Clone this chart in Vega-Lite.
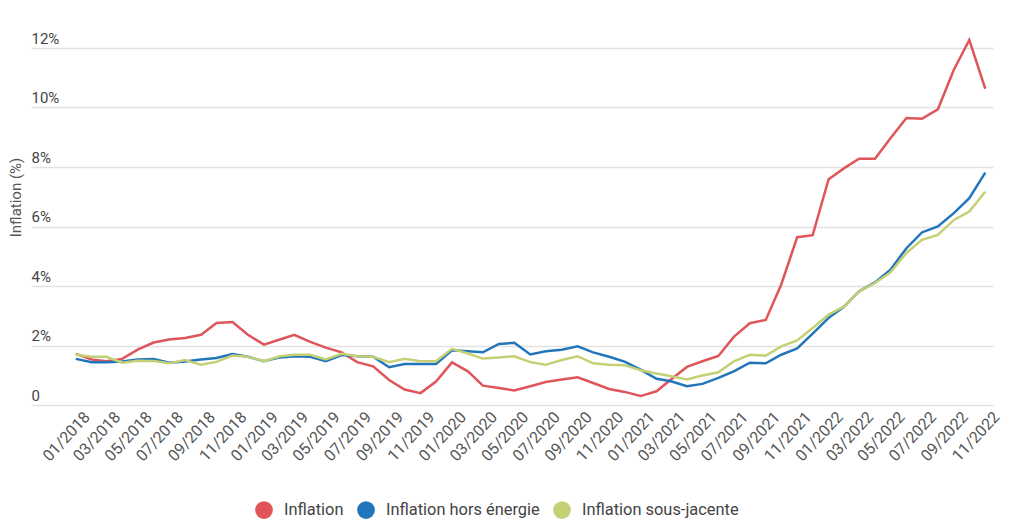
{
  "$schema": "https://vega.github.io/schema/vega-lite/v6.json",
  "width": 962,
  "height": 357,
  "autosize": {"type": "none"},
  "padding": {"left": 31, "top": 48, "right": 31, "bottom": 124},
  "background": "white",
  "config": {"view": {"stroke": null}, "font": "Roboto"},
  "data": {"values": [
    {"mois": "2018-01-01", "Inflation": 1.72, "Inflation hors énergie": 1.55, "Inflation sous-jacente": 1.69},
    {"mois": "2018-02-01", "Inflation": 1.53, "Inflation hors énergie": 1.44, "Inflation sous-jacente": 1.62},
    {"mois": "2018-03-01", "Inflation": 1.47, "Inflation hors énergie": 1.44, "Inflation sous-jacente": 1.62},
    {"mois": "2018-04-01", "Inflation": 1.55, "Inflation hors énergie": 1.46, "Inflation sous-jacente": 1.42},
    {"mois": "2018-05-01", "Inflation": 1.86, "Inflation hors énergie": 1.53, "Inflation sous-jacente": 1.49},
    {"mois": "2018-06-01", "Inflation": 2.10, "Inflation hors énergie": 1.55, "Inflation sous-jacente": 1.48},
    {"mois": "2018-07-01", "Inflation": 2.20, "Inflation hors énergie": 1.42, "Inflation sous-jacente": 1.40},
    {"mois": "2018-08-01", "Inflation": 2.25, "Inflation hors énergie": 1.46, "Inflation sous-jacente": 1.51},
    {"mois": "2018-09-01", "Inflation": 2.36, "Inflation hors énergie": 1.53, "Inflation sous-jacente": 1.35},
    {"mois": "2018-10-01", "Inflation": 2.76, "Inflation hors énergie": 1.58, "Inflation sous-jacente": 1.45},
    {"mois": "2018-11-01", "Inflation": 2.79, "Inflation hors énergie": 1.71, "Inflation sous-jacente": 1.66},
    {"mois": "2018-12-01", "Inflation": 2.36, "Inflation hors énergie": 1.62, "Inflation sous-jacente": 1.62},
    {"mois": "2019-01-01", "Inflation": 2.03, "Inflation hors énergie": 1.47, "Inflation sous-jacente": 1.47},
    {"mois": "2019-02-01", "Inflation": 2.20, "Inflation hors énergie": 1.60, "Inflation sous-jacente": 1.64},
    {"mois": "2019-03-01", "Inflation": 2.36, "Inflation hors énergie": 1.64, "Inflation sous-jacente": 1.69},
    {"mois": "2019-04-01", "Inflation": 2.12, "Inflation hors énergie": 1.62, "Inflation sous-jacente": 1.69},
    {"mois": "2019-05-01", "Inflation": 1.93, "Inflation hors énergie": 1.47, "Inflation sous-jacente": 1.53},
    {"mois": "2019-06-01", "Inflation": 1.77, "Inflation hors énergie": 1.68, "Inflation sous-jacente": 1.72},
    {"mois": "2019-07-01", "Inflation": 1.44, "Inflation hors énergie": 1.64, "Inflation sous-jacente": 1.64},
    {"mois": "2019-08-01", "Inflation": 1.30, "Inflation hors énergie": 1.62, "Inflation sous-jacente": 1.62},
    {"mois": "2019-09-01", "Inflation": 0.84, "Inflation hors énergie": 1.27, "Inflation sous-jacente": 1.44},
    {"mois": "2019-10-01", "Inflation": 0.52, "Inflation hors énergie": 1.38, "Inflation sous-jacente": 1.55},
    {"mois": "2019-11-01", "Inflation": 0.40, "Inflation hors énergie": 1.38, "Inflation sous-jacente": 1.47},
    {"mois": "2019-12-01", "Inflation": 0.79, "Inflation hors énergie": 1.38, "Inflation sous-jacente": 1.47},
    {"mois": "2020-01-01", "Inflation": 1.43, "Inflation hors énergie": 1.84, "Inflation sous-jacente": 1.89},
    {"mois": "2020-02-01", "Inflation": 1.13, "Inflation hors énergie": 1.81, "Inflation sous-jacente": 1.73},
    {"mois": "2020-03-01", "Inflation": 0.65, "Inflation hors énergie": 1.77, "Inflation sous-jacente": 1.56},
    {"mois": "2020-04-01", "Inflation": 0.57, "Inflation hors énergie": 2.05, "Inflation sous-jacente": 1.60},
    {"mois": "2020-05-01", "Inflation": 0.49, "Inflation hors énergie": 2.09, "Inflation sous-jacente": 1.64},
    {"mois": "2020-06-01", "Inflation": 0.63, "Inflation hors énergie": 1.70, "Inflation sous-jacente": 1.44},
    {"mois": "2020-07-01", "Inflation": 0.77, "Inflation hors énergie": 1.81, "Inflation sous-jacente": 1.35},
    {"mois": "2020-08-01", "Inflation": 0.86, "Inflation hors énergie": 1.86, "Inflation sous-jacente": 1.51},
    {"mois": "2020-09-01", "Inflation": 0.93, "Inflation hors énergie": 1.97, "Inflation sous-jacente": 1.64},
    {"mois": "2020-10-01", "Inflation": 0.74, "Inflation hors énergie": 1.77, "Inflation sous-jacente": 1.40},
    {"mois": "2020-11-01", "Inflation": 0.54, "Inflation hors énergie": 1.62, "Inflation sous-jacente": 1.35},
    {"mois": "2020-12-01", "Inflation": 0.44, "Inflation hors énergie": 1.46, "Inflation sous-jacente": 1.34},
    {"mois": "2021-01-01", "Inflation": 0.30, "Inflation hors énergie": 1.19, "Inflation sous-jacente": 1.17},
    {"mois": "2021-02-01", "Inflation": 0.46, "Inflation hors énergie": 0.88, "Inflation sous-jacente": 1.06},
    {"mois": "2021-03-01", "Inflation": 0.86, "Inflation hors énergie": 0.80, "Inflation sous-jacente": 0.97},
    {"mois": "2021-04-01", "Inflation": 1.28, "Inflation hors énergie": 0.63, "Inflation sous-jacente": 0.86},
    {"mois": "2021-05-01", "Inflation": 1.47, "Inflation hors énergie": 0.71, "Inflation sous-jacente": 0.99},
    {"mois": "2021-06-01", "Inflation": 1.65, "Inflation hors énergie": 0.91, "Inflation sous-jacente": 1.10},
    {"mois": "2021-07-01", "Inflation": 2.29, "Inflation hors énergie": 1.13, "Inflation sous-jacente": 1.47},
    {"mois": "2021-08-01", "Inflation": 2.75, "Inflation hors énergie": 1.42, "Inflation sous-jacente": 1.69},
    {"mois": "2021-09-01", "Inflation": 2.86, "Inflation hors énergie": 1.40, "Inflation sous-jacente": 1.66},
    {"mois": "2021-10-01", "Inflation": 4.05, "Inflation hors énergie": 1.69, "Inflation sous-jacente": 1.97},
    {"mois": "2021-11-01", "Inflation": 5.64, "Inflation hors énergie": 1.90, "Inflation sous-jacente": 2.17},
    {"mois": "2021-12-01", "Inflation": 5.71, "Inflation hors énergie": 2.40, "Inflation sous-jacente": 2.59},
    {"mois": "2022-01-01", "Inflation": 7.59, "Inflation hors énergie": 2.93, "Inflation sous-jacente": 3.04},
    {"mois": "2022-02-01", "Inflation": 7.97, "Inflation hors énergie": 3.32, "Inflation sous-jacente": 3.32},
    {"mois": "2022-03-01", "Inflation": 8.28, "Inflation hors énergie": 3.82, "Inflation sous-jacente": 3.82},
    {"mois": "2022-04-01", "Inflation": 8.28, "Inflation hors énergie": 4.12, "Inflation sous-jacente": 4.10},
    {"mois": "2022-05-01", "Inflation": 8.97, "Inflation hors énergie": 4.55, "Inflation sous-jacente": 4.46},
    {"mois": "2022-06-01", "Inflation": 9.65, "Inflation hors énergie": 5.27, "Inflation sous-jacente": 5.11},
    {"mois": "2022-07-01", "Inflation": 9.62, "Inflation hors énergie": 5.80, "Inflation sous-jacente": 5.55},
    {"mois": "2022-08-01", "Inflation": 9.94, "Inflation hors énergie": 6.00, "Inflation sous-jacente": 5.72},
    {"mois": "2022-09-01", "Inflation": 11.27, "Inflation hors énergie": 6.45, "Inflation sous-jacente": 6.22},
    {"mois": "2022-10-01", "Inflation": 12.27, "Inflation hors énergie": 6.95, "Inflation sous-jacente": 6.50},
    {"mois": "2022-11-01", "Inflation": 10.63, "Inflation hors énergie": 7.81, "Inflation sous-jacente": 7.17}
  ]},
  "transform": [
    {"fold": ["Inflation", "Inflation hors énergie", "Inflation sous-jacente"], "as": ["serie", "taux"]}
  ],
  "mark": {"type": "line", "strokeWidth": 2.5},
  "encoding": {
    "x": {
      "field": "mois",
      "type": "temporal",
      "scale": {
        "type": "utc",
        "domain": [
          {"year": 2017, "month": 10, "date": 6, "utc": true},
          {"year": 2022, "month": 11, "date": 16, "utc": true}
        ]
      },
      "axis": {
        "title": null,
        "grid": false,
        "domain": false,
        "ticks": false,
        "tickCount": {"interval": "month", "step": 2},
        "labelExpr": "utcyear(datum.value) < 2018 ? '' : utcFormat(datum.value, '%m/%Y')",
        "labelAngle": -47,
        "labelAlign": "right",
        "labelBaseline": "middle",
        "labelFontSize": 16,
        "labelColor": "#555555",
        "labelPadding": 9,
        "labelOffset": 11,
        "labelOverlap": false,
        "labelBound": false,
        "labelFlush": false
      }
    },
    "y": {
      "field": "taux",
      "type": "quantitative",
      "scale": {"domain": [0, 12], "nice": false, "zero": true},
      "axis": {
        "title": "Inflation (%)",
        "titleFontSize": 15,
        "titleFontWeight": "normal",
        "titleColor": "#555555",
        "titleAngle": -90,
        "titleX": -16,
        "titleY": 149,
        "titleAlign": "center",
        "titleBaseline": "middle",
        "values": [0, 2, 4, 6, 8, 10, 12],
        "labelExpr": "datum.value == 0 ? '0' : datum.value + '%'",
        "domain": false,
        "ticks": false,
        "tickSize": 0,
        "labelAlign": "left",
        "labelBaseline": "alphabetic",
        "labelPadding": 0,
        "labelOffset": -5,
        "labelFontSize": 15,
        "labelColor": "#444444",
        "grid": true,
        "gridColor": "#e2e2e2",
        "gridWidth": 1.5
      }
    },
    "color": {
      "field": "serie",
      "type": "nominal",
      "scale": {
        "domain": ["Inflation", "Inflation hors énergie", "Inflation sous-jacente"],
        "range": ["#e0555a", "#2176bb", "#c5d075"]
      },
      "legend": {
        "title": null,
        "orient": "none",
        "direction": "horizontal",
        "legendX": 224,
        "legendY": 453,
        "padding": 0,
        "symbolType": "circle",
        "symbolSize": 314,
        "labelFontSize": 16.4,
        "labelColor": "#444444",
        "labelOffset": 11,
        "columnPadding": 13,
        "encode": {
          "symbols": {
            "update": {
              "fill": {"scale": "color", "field": "value"},
              "fillOpacity": {"value": 1},
              "strokeWidth": {"value": 0}
            }
          }
        }
      }
    }
  }
}
